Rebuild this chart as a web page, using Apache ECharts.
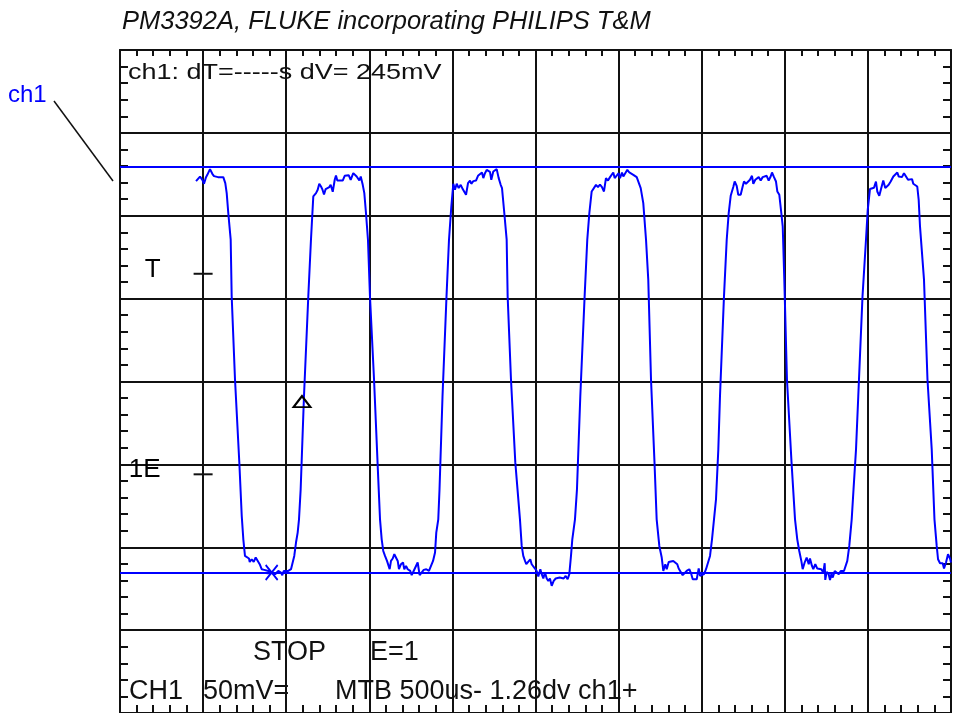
<!DOCTYPE html>
<html>
<head>
<meta charset="utf-8">
<script src="https://cdn.jsdelivr.net/npm/echarts@6/dist/echarts.min.js"></script>
<style>
  html, body { margin: 0; padding: 0; background: #ffffff; }
  #chart { width: 954px; height: 713px; }
</style>
</head>
<body>
<div id="chart"></div>
<script>
// Captured channel-1 trace: [time in divisions, level in divisions from the bottom graticule line]
const trace = [
  [0.915,6.418],[0.963,6.473],[0.995,6.425],[1.011,6.386],[1.035,6.466],[1.051,6.494],[1.083,6.563],[1.111,6.506],
  [1.131,6.478],[1.155,6.482],[1.179,6.466],[1.243,6.466],[1.267,6.394],[1.284,6.273],[1.303,6.033],[1.332,5.711],
  [1.344,5.028],[1.384,4.024],[1.436,3.020],[1.465,2.377],[1.484,2.096],[1.504,1.895],[1.525,1.876],[1.552,1.864],
  [1.561,1.823],[1.585,1.855],[1.609,1.823],[1.633,1.876],[1.657,1.888],[1.681,1.795],[1.705,1.735],[1.736,1.727],
  [1.785,1.714],[1.825,1.695],[1.865,1.675],[1.905,1.714],[1.937,1.695],[1.953,1.663],[1.970,1.714],[1.994,1.702],
  [2.025,1.714],[2.058,1.735],[2.082,1.727],[2.097,1.895],[2.118,2.057],[2.138,2.177],[2.154,2.337],[2.174,2.699],
  [2.214,3.823],[2.266,5.028],[2.298,5.711],[2.326,6.233],[2.359,6.273],[2.379,6.313],[2.398,6.386],[2.419,6.353],
  [2.434,6.322],[2.455,6.257],[2.475,6.322],[2.495,6.334],[2.519,6.346],[2.535,6.373],[2.560,6.289],[2.584,6.434],
  [2.599,6.486],[2.615,6.425],[2.680,6.425],[2.704,6.482],[2.728,6.466],[2.752,6.490],[2.776,6.434],[2.807,6.514],
  [2.824,6.527],[2.848,6.473],[2.864,6.494],[2.880,6.425],[2.897,6.473],[2.921,6.373],[2.940,6.273],[2.960,6.033],
  [2.984,5.711],[3.008,5.028],[3.057,4.024],[3.108,2.819],[3.129,2.337],[3.149,2.096],[3.168,1.955],[3.189,1.895],
  [3.213,1.835],[3.229,1.847],[3.245,1.735],[3.261,1.835],[3.282,1.864],[3.301,1.916],[3.318,1.928],[3.342,1.835],
  [3.357,1.735],[3.381,1.795],[3.406,1.816],[3.421,1.735],[3.442,1.775],[3.462,1.735],[3.493,1.714],[3.510,1.663],
  [3.534,1.714],[3.558,1.735],[3.582,1.816],[3.606,1.663],[3.630,1.675],[3.655,1.727],[3.686,1.735],[3.718,1.714],
  [3.742,1.735],[3.767,1.835],[3.791,1.936],[3.806,2.177],[3.830,2.337],[3.845,2.699],[3.881,3.819],[3.929,5.024],
  [3.959,5.711],[3.987,6.112],[4.011,6.386],[4.031,6.313],[4.052,6.386],[4.076,6.334],[4.100,6.373],[4.124,6.322],
  [4.148,6.334],[4.164,6.253],[4.188,6.394],[4.212,6.425],[4.227,6.386],[4.252,6.418],[4.284,6.425],[4.308,6.482],
  [4.332,6.473],[4.356,6.522],[4.372,6.454],[4.389,6.506],[4.413,6.554],[4.437,6.563],[4.452,6.530],[4.468,6.434],
  [4.492,6.534],[4.516,6.514],[4.533,6.563],[4.557,6.454],[4.581,6.373],[4.597,6.334],[4.621,6.072],[4.653,5.711],
  [4.665,5.024],[4.705,4.024],[4.757,3.024],[4.813,2.337],[4.834,2.016],[4.853,1.895],[4.874,1.835],[4.889,1.795],
  [4.913,1.795],[4.937,1.855],[4.954,1.795],[4.974,1.816],[4.994,1.743],[5.014,1.714],[5.034,1.647],[5.058,1.735],
  [5.075,1.675],[5.094,1.623],[5.114,1.695],[5.135,1.623],[5.154,1.594],[5.174,1.623],[5.195,1.534],[5.219,1.594],
  [5.243,1.623],[5.267,1.606],[5.291,1.635],[5.315,1.647],[5.339,1.623],[5.363,1.654],[5.387,1.614],[5.407,1.675],
  [5.427,1.895],[5.443,2.096],[5.475,2.337],[5.499,2.699],[5.539,3.819],[5.591,5.024],[5.623,5.711],[5.648,6.033],
  [5.676,6.293],[5.696,6.273],[5.728,6.373],[5.752,6.346],[5.776,6.377],[5.800,6.346],[5.824,6.293],[5.848,6.454],
  [5.872,6.425],[5.897,6.466],[5.921,6.473],[5.936,6.522],[5.953,6.454],[5.977,6.473],[6.001,6.514],[6.017,6.454],
  [6.041,6.522],[6.057,6.473],[6.081,6.482],[6.105,6.554],[6.129,6.522],[6.153,6.514],[6.177,6.494],[6.201,6.514],
  [6.218,6.466],[6.242,6.454],[6.266,6.334],[6.297,6.153],[6.330,5.711],[6.357,5.229],[6.390,4.024],[6.432,3.024],
  [6.458,2.337],[6.490,2.016],[6.519,1.876],[6.538,1.714],[6.562,1.795],[6.579,1.735],[6.603,1.823],[6.627,1.847],
  [6.658,1.835],[6.682,1.816],[6.706,1.795],[6.723,1.743],[6.747,1.735],[6.771,1.663],[6.795,1.654],[6.819,1.714],
  [6.851,1.735],[6.875,1.675],[6.892,1.614],[6.940,1.614],[6.964,1.743],[6.980,1.654],[7.004,1.654],[7.028,1.675],
  [7.052,1.735],[7.076,1.755],[7.100,1.895],[7.124,2.096],[7.148,2.337],[7.172,2.578],[7.200,3.181],[7.220,3.819],
  [7.268,5.024],[7.301,5.711],[7.325,6.033],[7.349,6.241],[7.380,6.346],[7.397,6.413],[7.421,6.361],[7.440,6.253],
  [7.469,6.253],[7.493,6.353],[7.509,6.413],[7.533,6.386],[7.557,6.386],[7.581,6.434],[7.605,6.482],[7.621,6.386],
  [7.645,6.434],[7.669,6.425],[7.686,6.466],[7.710,6.425],[7.734,6.466],[7.758,6.454],[7.782,6.482],[7.806,6.425],
  [7.830,6.473],[7.846,6.522],[7.870,6.466],[7.894,6.413],[7.910,6.293],[7.934,6.253],[7.958,6.033],[7.975,5.871],
  [7.994,5.229],[8.026,4.024],[8.081,3.024],[8.123,2.337],[8.150,2.096],[8.174,1.955],[8.199,1.835],[8.215,1.735],
  [8.239,1.816],[8.263,1.876],[8.288,1.795],[8.303,1.864],[8.327,1.775],[8.343,1.735],[8.367,1.795],[8.391,1.743],
  [8.415,1.727],[8.439,1.735],[8.463,1.695],[8.480,1.807],[8.487,1.606],[8.504,1.702],[8.528,1.675],[8.544,1.606],
  [8.560,1.675],[8.577,1.635],[8.601,1.714],[8.625,1.714],[8.649,1.675],[8.673,1.714],[8.688,1.695],[8.712,1.714],
  [8.736,1.727],[8.752,1.835],[8.776,2.016],[8.805,2.337],[8.827,2.699],[8.857,3.181],[8.884,3.819],[8.935,5.024],
  [8.977,5.711],[8.998,6.072],[9.025,6.322],[9.049,6.329],[9.073,6.337],[9.097,6.413],[9.113,6.293],[9.137,6.241],
  [9.161,6.334],[9.185,6.425],[9.209,6.334],[9.226,6.322],[9.250,6.373],[9.274,6.413],[9.290,6.434],[9.306,6.473],
  [9.330,6.466],[9.354,6.522],[9.371,6.473],[9.386,6.490],[9.410,6.466],[9.434,6.514],[9.458,6.522],[9.483,6.434],
  [9.507,6.425],[9.531,6.442],[9.546,6.386],[9.570,6.373],[9.594,6.353],[9.611,6.193],[9.627,5.871],[9.675,5.229],
  [9.717,4.024],[9.768,3.181],[9.801,2.337],[9.828,2.016],[9.844,1.855],[9.868,1.807],[9.900,1.807],[9.916,1.743],
  [9.940,1.816],[9.964,1.916],[9.988,1.864],[10.0,1.816]
];

// Voltage cursors (divisions): 4.9 div x 50 mV/div = 245 mV
const cursorLevels = [6.59, 1.69];

// Level markers on the first vertical graticule line
const levelMarkerNames = ['T', '1E'];
const levelMarkerValues = [5.30, 2.88];
const levelMarkerTime = 1.0;

// Trigger point and cursor cross
const triggerPoint = [2.19, 3.757];
const cursorCross = [1.825, 1.695];

// Screen texts
const titleText = 'PM3392A, FLUKE incorporating PHILIPS T&M';
const readoutText = 'ch1: dT=-----s dV= 245mV';
const channelTag = 'ch1';
const statusTexts = ['STOP', 'E=1'];
const settingTexts = ['CH1', '50mV=', 'MTB 500us- 1.26dv ch1+'];

const INK = '#111111';
const TRACE = '#0000ff';
const FONT = '"Liberation Sans", Arial, sans-serif';

const chart = echarts.init(document.getElementById('chart'), null, { renderer: 'canvas' });

function graticuleAxis(position, tickLen, showSplit) {
  return {
    type: 'value',
    position: position,
    min: 0,
    max: position === 'bottom' || position === 'top' ? 10 : 8,
    interval: 1,
    axisLine: { show: true, onZero: false, lineStyle: { color: INK, width: 2 } },
    axisTick: { show: true, inside: true, length: tickLen, lineStyle: { color: INK, width: 2 } },
    minorTick: { show: true, splitNumber: 5, length: tickLen, lineStyle: { color: INK, width: 2 } },
    axisLabel: { show: false },
    splitLine: { show: showSplit, lineStyle: { color: INK, width: 2 } },
    minorSplitLine: { show: false }
  };
}

const option = {
  animation: false,
  backgroundColor: '#ffffff',
  grid: { left: 120, top: 50, width: 831, height: 664, containLabel: false },
  xAxis: [graticuleAxis('bottom', 8, true), graticuleAxis('top', 6, false)],
  yAxis: [graticuleAxis('left', 8, true), graticuleAxis('right', 8, false)],
  series: [
    {
      name: 'ch1',
      type: 'line',
      data: trace,
      showSymbol: false,
      symbol: 'none',
      smooth: false,
      lineStyle: { color: TRACE, width: 2 },
      z: 4,
      markLine: {
        silent: true,
        symbol: 'none',
        label: { show: false },
        lineStyle: { color: TRACE, width: 2, type: 'solid', opacity: 1 },
        emphasis: { disabled: true },
        data: cursorLevels.map(v => ({ yAxis: v }))
      }
    },
    {
      name: 'levels',
      type: 'scatter',
      data: levelMarkerValues.map((v, i) => ({ value: [levelMarkerTime, v], name: levelMarkerNames[i] })),
      symbol: 'rect',
      symbolSize: [19, 2],
      itemStyle: { color: INK, opacity: 1 },
      label: {
        show: true,
        position: 'left',
        distance: 33,
        formatter: p => p.name,
        color: '#000000',
        opacity: 1,
        fontFamily: FONT,
        fontSize: 26,
        offset: [0, -4]
      },
      z: 5
    },
    {
      name: 'trigger',
      type: 'scatter',
      data: [triggerPoint],
      symbol: 'triangle',
      symbolSize: [17, 11],
      itemStyle: { color: 'rgba(0,0,0,0)', borderColor: '#000000', borderWidth: 2, opacity: 1 },
      z: 6
    },
    {
      name: 'cursor',
      type: 'scatter',
      data: [cursorCross],
      symbol: 'path://M0,0L12,15M12,0L0,15M1,8L11,8',
      symbolSize: [12, 15],
      itemStyle: { color: 'rgba(0,0,0,0)', borderColor: TRACE, borderWidth: 2, opacity: 1 },
      z: 6
    }
  ],
  graphic: [
    {
      type: 'text', x: 122, y: 22,
      style: { text: titleText, font: 'italic 25.5px ' + FONT, fill: INK, verticalAlign: 'middle' }
    },
    {
      type: 'text', x: 128, y: 73, scaleY: 0.82,
      style: { text: readoutText, font: '27px ' + FONT, fill: INK, verticalAlign: 'middle' }
    },
    {
      type: 'text', x: 8, y: 95,
      style: { text: channelTag, font: '24px ' + FONT, fill: TRACE, verticalAlign: 'middle' }
    },
    {
      type: 'line',
      shape: { x1: 54, y1: 101, x2: 113, y2: 181 },
      style: { stroke: INK, lineWidth: 1.5 }
    },
    {
      type: 'text', x: 253, y: 653,
      style: { text: statusTexts[0], font: '27px ' + FONT, fill: INK, verticalAlign: 'middle' }
    },
    {
      type: 'text', x: 370, y: 653,
      style: { text: statusTexts[1], font: '27px ' + FONT, fill: INK, verticalAlign: 'middle' }
    },
    {
      type: 'text', x: 129, y: 692,
      style: { text: settingTexts[0], font: '27px ' + FONT, fill: INK, verticalAlign: 'middle' }
    },
    {
      type: 'text', x: 203, y: 692,
      style: { text: settingTexts[1], font: '27px ' + FONT, fill: INK, verticalAlign: 'middle' }
    },
    {
      type: 'text', x: 335, y: 692,
      style: { text: settingTexts[2], font: '27px ' + FONT, fill: INK, verticalAlign: 'middle' }
    }
  ]
};

chart.setOption(option);
</script>
</body>
</html>
